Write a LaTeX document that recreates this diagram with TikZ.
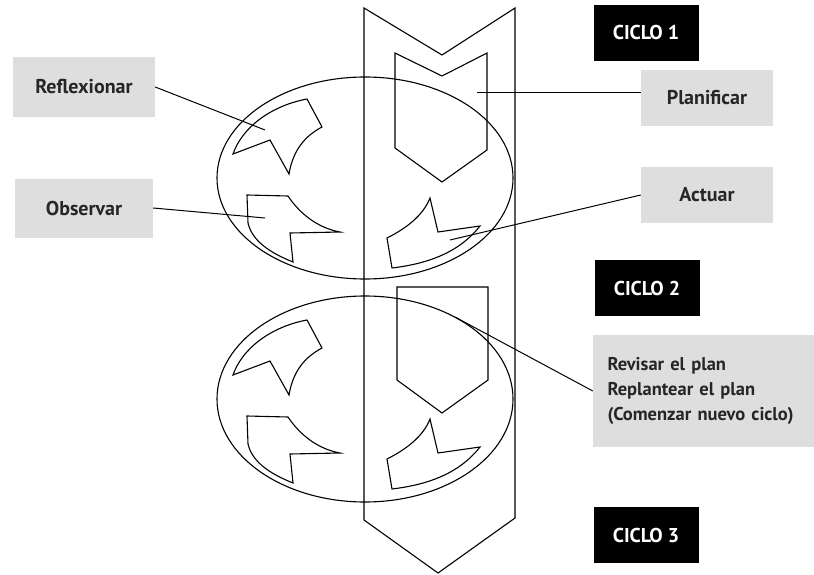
\documentclass[tikz,border=0pt]{standalone}
\usepackage{fontspec}
\setmainfont{PT Sans}
\usetikzlibrary{calc}
\tikzset{
  shapeline/.style={line width=1.1pt, line join=miter},
  graylabel/.style={fill=black!13, font=\fontsize{20}{24}\selectfont\bfseries, text=black!85, inner sep=0pt},
  ciclo/.style={fill=black, text=white, font=\fontsize{20}{24}\selectfont\bfseries, inner sep=0pt,
    minimum width=105pt, minimum height=56pt},
  leader/.style={line width=1pt}
}

\begin{document}
\begin{tikzpicture}[x=1pt, y=-1pt]
			%%%%% START %%%%%
			\useasboundingbox (0, 0) rectangle (814, 575);
			
			% big downward band
			\draw[shapeline] (364, 8) -- (442, 55) -- (515, 8) -- (515, 518) -- (438, 573) -- (364, 520) -- cycle;
			
			% the two cycles
			\draw[shapeline] (365, 178) ellipse [x radius=148, y radius=101];
			\draw[shapeline] (365, 399) ellipse [x radius=148, y radius=103];
			
			% planning arrows
			\draw[shapeline] (395, 53) -- (442, 76) -- (487, 53) -- (487, 150) -- (442, 182) -- (395, 148) -- cycle;
			\draw[shapeline] (397, 287) -- (488, 287) -- (488, 380) -- (442, 413) -- (397, 380) -- cycle;
			
			% curved arrows inside each cycle
			\foreach \dy in {0, 221} {
				\begin{scope}[shift={(0, \dy)}]
					\draw[shapeline] (233, 154) -- (270, 140) -- (289, 174) .. controls (293, 150) and (305, 136) .. (322, 127)
						-- (307, 99) .. controls (270, 106) and (242, 128) .. (233, 154) -- cycle;
					\draw[shapeline] (247, 195) -- (288, 196) .. controls (300, 214) and (318, 228) .. (340, 232)
						-- (290, 233) -- (293, 262) .. controls (268, 252) and (252, 240) .. (248, 223) -- cycle;
					\draw[shapeline] (430, 198) -- (438, 232) -- (480, 226) .. controls (458, 254) and (425, 264) .. (392, 268)
						-- (387, 238) .. controls (405, 229) and (423, 216) .. (430, 198) -- cycle;
				\end{scope}
			}
			
			% labels
			\node[graylabel, minimum width=142pt, minimum height=60pt] (refl) at (84, 87) {Reflexionar};
			\node[graylabel, minimum width=138pt, minimum height=59pt] (obs) at (84, 208) {Observar};
			\node[graylabel, minimum width=132pt, minimum height=56pt] (plan) at (707, 98) {Planificar};
			\node[graylabel, minimum width=132pt, minimum height=56pt] (act) at (707, 195) {Actuar};
			\node[graylabel, font=\fontsize{18.5}{25}\selectfont\bfseries, minimum width=221pt, minimum height=112pt,
				text width=192pt, align=left] (rev) at (703.5, 391)
				{Revisar el plan\\Replantear el plan\\(Comenzar nuevo ciclo)};
			
			\node[ciclo] (c1) at (646, 33) {CICLO 1};
			\node[ciclo] (c2) at (647, 288) {CICLO 2};
			\node[ciclo] (c3) at (646, 535) {CICLO 3};
			
			% leaders
			\coordinate (reflend) at (265, 130);
			\coordinate (obsend) at (265, 218);
			\coordinate (planend) at (477, 93);
			\coordinate (actend) at (450, 240);
			\coordinate (revend) at (455, 317);
			
			\draw[leader] (refl.east) -- (reflend);
			\draw[leader] (obs.east) -- (obsend);
			\draw[leader] (plan.west |- planend) -- (planend);
			\draw[leader] (act.west) -- (actend);
			\draw[leader] (rev.west) -- (revend);
			%%%%% END %%%%%
\end{tikzpicture}
\end{document}
